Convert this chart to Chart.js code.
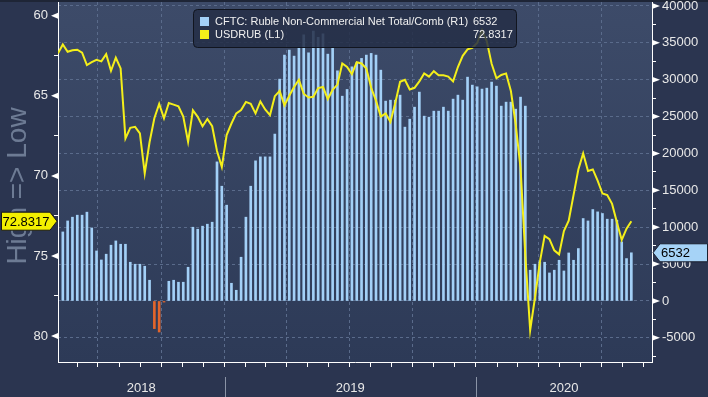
<!DOCTYPE html>
<html lang="en">
<head>
    <meta charset="UTF-8">
    <title>USDRUB vs CFTC Ruble positioning</title>
    <style>
        html, body {
            margin: 0;
            padding: 0;
            background-color: #2b3550;
        }
        #wrap {
            width: 708px;
            height: 397px;
        }
    </style>
    <script src="https://cdn.jsdelivr.net/npm/chart.js"></script>
</head>
<body>
    <div id="wrap"><canvas id="chart" width="708" height="397"></canvas></div>

    <script>
        // CFTC Ruble non-commercial net total (contracts), weekly from the first Friday below
        const cftcStart = '2018-05-11';
        const cftcNet = [
            9360, 10850, 11360, 11630, 11630, 12040, 9900, 6780, 5560, 6340,
            7560, 8140, 7690, 7690, 5250, 4980, 4980, 4710, 2810, -3750,
            -4210, -150, 2670, 2810, 2540, 2540, 4570, 10000, 9730, 10140,
            10410, 10680, 18860, 15560, 12990, 2400, 1450, 5930, 11360, 15560,
            19000, 19540, 19540, 19540, 22630, 30080, 33340, 34020, 33200, 34330,
            36090, 33650, 36590, 35740, 36230, 33470, 34330, 31210, 27770, 28680,
            31750, 32290, 32890, 33340, 33570, 33340, 31300, 27100, 27230, 27230,
            27910, 23570, 24650, 26280, 28320, 25060, 24920, 25740, 25740, 26280,
            25740, 27370, 27910, 27230, 30350, 29270, 29040, 28730, 28860, 29680,
            29130, 26420, 26960, 26960, 26010, 27640, 26420, 4170, 4980, 5290,
            5250, 3800, 4170, 5520, 4070, 6510, 5520, 7110, 11180, 10850,
            12400, 12080, 11860, 11090, 11090, 10950, 8010, 5750, 6532
        ];

        // USDRUB, weekly, starting one week before the first CFTC print
        const usdStart = '2018-05-04';
        const usdRub = [
            62.35, 61.79, 62.25, 62.15, 62.12, 62.3, 63.08, 62.9, 62.75, 62.85,
            62.4, 63.44, 62.62, 63.29, 67.66, 67.0, 66.94, 67.35, 69.85, 67.9,
            66.4, 65.5, 66.4, 65.45, 65.55, 65.65, 66.3, 67.88, 65.9, 66.31,
            66.9, 66.45, 66.9, 68.45, 69.44, 67.45, 66.73, 66.1, 65.89, 65.38,
            65.5, 66.1, 65.35, 65.85, 66.2, 65.02, 64.7, 65.6, 65.0, 64.45,
            64.0, 64.87, 65.1, 65.06, 64.52, 64.45, 65.2, 64.62, 64.3, 62.98,
            63.19, 63.65, 62.9, 62.98, 63.3, 64.5, 65.3, 66.3, 66.1, 66.63,
            65.45, 64.12, 64.0, 64.6, 64.5, 64.1, 63.6, 63.8, 63.46, 63.71,
            63.72, 63.8, 64.1, 63.2, 62.5, 62.1, 62.0, 61.7, 60.9, 61.6,
            63.0, 63.9, 63.7, 63.6, 64.7, 66.8, 69.5, 75.0, 79.64, 77.6,
            75.4, 73.75, 73.95, 74.65, 74.9, 73.45, 72.8, 71.2, 69.6, 68.6,
            69.7, 69.6, 70.3, 71.1, 71.2, 71.75, 72.9, 74.0, 73.3, 72.8317
        ];

        const axisStart = '2018-05-04';
        const axisEnd = '2020-09-13';
        const years = [2018, 2019, 2020];
        const leftTicks = [60, 62.5, 65, 67.5, 70, 72.5, 75, 77.5, 80];
        const rightTicks = [-7500, -5000, -2500, 0, 2500, 5000, 7500, 10000, 12500, 15000,
            17500, 20000, 22500, 25000, 27500, 30000, 32500, 35000, 37500, 40000];

        const seriesNames = ['CFTC: Ruble Non-Commercial Net Total/Comb (R1)', 'USDRUB (L1)'];

        // days since 2018-01-01 (x axis unit)
        const base = Date.UTC(2018, 0, 1);
        function dayNum(s) { return (Date.parse(s + 'T00:00:00Z') - base) / 864e5; }
        function weekly(start, values) {
            const d0 = dayNum(start);
            return values.map((v, i) => ({ x: d0 + 7 * i, y: v }));
        }

        const monthTicks = [];
        years.forEach(y => {
            for (let m = 0; m < 12; m++) {
                const d = (Date.UTC(y, m, 1) - base) / 864e5;
                if (d >= dayNum(axisStart) && d <= dayNum(axisEnd)) monthTicks.push({ value: d, quarter: m % 3 === 0 });
            }
        });

        const GRID = '#5a6b8b';
        const WHITE = '#e8e8e8';
        const lastUsd = usdRub[usdRub.length - 1];
        const lastNet = cftcNet[cftcNet.length - 1];

        const decor = {
            id: 'decor',
            beforeDraw(chart) {
                const { ctx, chartArea: a, width, height } = chart;
                ctx.save();
                ctx.fillStyle = '#2b3550';
                ctx.fillRect(0, 0, width, height);
                ctx.fillStyle = '#1e2536';
                ctx.fillRect(0, 0, width, 2);
                const g = ctx.createLinearGradient(0, a.top, 0, a.bottom);
                g.addColorStop(0, '#3d4b69');
                g.addColorStop(1, '#2d3a57');
                ctx.fillStyle = g;
                ctx.fillRect(a.left, a.top, a.right - a.left, a.bottom - a.top);
                ctx.restore();
            },
            afterDraw(chart) {
                const { ctx, chartArea: a, scales } = chart;
                const yL = scales.y, yR = scales.y2, x = scales.x;
                ctx.save();

                // axis title (behind the badge)
                ctx.save();
                ctx.translate(18, 186);
                ctx.rotate(-Math.PI / 2);
                ctx.font = '28px "Liberation Sans", Arial, sans-serif';
                ctx.fillStyle = '#6d7b94';
                ctx.textAlign = 'center';
                ctx.textBaseline = 'middle';
                ctx.fillText('High => Low', 0, 0);
                ctx.restore();

                // triangle markers on major ticks
                ctx.fillStyle = '#ffffff';
                leftTicks.filter(v => v % 5 === 0).forEach(v => {
                    const py = yL.getPixelForValue(v);
                    ctx.beginPath();
                    ctx.moveTo(a.left, py - 3);
                    ctx.lineTo(a.left, py + 3);
                    ctx.lineTo(a.left - 7, py);
                    ctx.closePath();
                    ctx.fill();
                });
                rightTicks.filter(v => v % 5000 === 0).forEach(v => {
                    const py = yR.getPixelForValue(v);
                    ctx.beginPath();
                    ctx.moveTo(a.right, py - 3);
                    ctx.lineTo(a.right, py + 3);
                    ctx.lineTo(a.right + 8, py);
                    ctx.closePath();
                    ctx.fill();
                });

                // years and separators under the axis
                ctx.font = '13px "Liberation Sans", Arial, sans-serif';
                ctx.fillStyle = WHITE;
                ctx.textAlign = 'center';
                ctx.textBaseline = 'middle';
                years.forEach(y => {
                    const s = Math.max(x.min, (Date.UTC(y, 0, 1) - base) / 864e5);
                    const e = Math.min(x.max, (Date.UTC(y + 1, 0, 1) - base) / 864e5);
                    ctx.fillText(String(y), (x.getPixelForValue(s) + x.getPixelForValue(e)) / 2, 388);
                    const d = (Date.UTC(y, 0, 1) - base) / 864e5;
                    if (d > x.min && d < x.max) {
                        const px = Math.round(x.getPixelForValue(d)) + 0.5;
                        ctx.strokeStyle = '#8a93a6';
                        ctx.lineWidth = 1;
                        ctx.beginPath();
                        ctx.moveTo(px, 377);
                        ctx.lineTo(px, 397);
                        ctx.stroke();
                    }
                });

                // legend box
                const lx = 193.5, ly = 9.5, lw = 323, lh = 38;
                ctx.beginPath();
                ctx.roundRect(lx, ly, lw, lh, 4);
                ctx.fillStyle = 'rgba(36, 46, 70, 0.85)';
                ctx.fill();
                ctx.strokeStyle = '#11151f';
                ctx.lineWidth = 1;
                ctx.stroke();
                ctx.font = '11px "Liberation Sans", Arial, sans-serif';
                ctx.textAlign = 'left';
                ctx.fillStyle = '#a3d0f7';
                ctx.fillRect(200, 17, 9, 9);
                ctx.fillStyle = '#f4ef1a';
                ctx.fillRect(200, 30, 9, 9);
                ctx.fillStyle = '#f0f0f0';
                ctx.fillText(seriesNames[0], 215, 22);
                ctx.fillText(seriesNames[1], 215, 35);
                ctx.fillText(String(lastNet), 473, 22);
                ctx.fillText(lastUsd.toFixed(4), 473, 35);

                // last value badges
                ctx.font = '13px "Liberation Sans", Arial, sans-serif';
                let py = yL.getPixelForValue(lastUsd);
                ctx.beginPath();
                ctx.moveTo(1.5, py - 9);
                ctx.lineTo(50, py - 9);
                ctx.lineTo(57, py);
                ctx.lineTo(50, py + 9);
                ctx.lineTo(1.5, py + 9);
                ctx.closePath();
                ctx.fillStyle = '#f3f000';
                ctx.fill();
                ctx.strokeStyle = '#1a1a1a';
                ctx.stroke();
                ctx.fillStyle = '#000000';
                ctx.textAlign = 'center';
                ctx.fillText(lastUsd.toFixed(4), 26, py + 1);

                py = yR.getPixelForValue(lastNet);
                ctx.beginPath();
                ctx.moveTo(a.right + 1, py);
                ctx.lineTo(a.right + 8, py - 9);
                ctx.lineTo(707.5, py - 9);
                ctx.lineTo(707.5, py + 9);
                ctx.lineTo(a.right + 8, py + 9);
                ctx.closePath();
                ctx.fillStyle = '#a6d3f7';
                ctx.fill();
                ctx.strokeStyle = '#1a1f2e';
                ctx.stroke();
                ctx.fillStyle = '#000000';
                ctx.textAlign = 'left';
                ctx.fillText(String(lastNet), a.right + 9, py + 1);

                ctx.restore();
            }
        };

        Chart.defaults.font.family = '"Liberation Sans", Arial, sans-serif';

        new Chart(document.getElementById('chart'), {
            type: 'bar',
            data: {
                datasets: [{
                    type: 'line',
                    label: seriesNames[1],
                    data: weekly(usdStart, usdRub),
                    yAxisID: 'y',
                    borderColor: '#f4ef1a',
                    borderWidth: 2,
                    pointRadius: 0,
                    tension: 0,
                    order: 0
                }, {
                    label: seriesNames[0],
                    data: weekly(cftcStart, cftcNet),
                    yAxisID: 'y2',
                    backgroundColor: ctx => (ctx.raw && ctx.raw.y < 0) ? '#e2652c' : '#a3d0f7',
                    barThickness: 2,
                    order: 1
                }]
            },
            options: {
                responsive: false,
                devicePixelRatio: 1,
                animation: false,
                layout: { padding: { top: 2, left: 0, right: 0, bottom: 0 }, autoPadding: false },
                plugins: { legend: { display: false }, tooltip: { enabled: false } },
                scales: {
                    x: {
                        type: 'linear',
                        min: dayNum(axisStart),
                        max: dayNum(axisEnd),
                        offset: false,
                        afterBuildTicks: s => { s.ticks = monthTicks.map(t => ({ value: t.value })); },
                        afterFit: s => { s.height = 35; s.paddingLeft = 0; s.paddingRight = 0; },
                        ticks: { autoSkip: false, callback: () => '' },
                        grid: {
                            offset: false,
                            color: c => (monthTicks[c.index] && monthTicks[c.index].quarter) ? GRID : 'rgba(0,0,0,0)',
                            tickColor: '#ffffff',
                            tickLength: 5
                        },
                        border: { color: '#ffffff', width: 1, dash: [3, 3] }
                    },
                    y: {
                        position: 'left',
                        reverse: true,
                        min: 59.14,
                        max: 81.625,
                        afterBuildTicks: s => { s.ticks = leftTicks.map(v => ({ value: v })); },
                        afterFit: s => { s.width = 58; s.paddingTop = 0; s.paddingBottom = 0; },
                        ticks: {
                            autoSkip: false,
                            color: WHITE,
                            font: { size: 13 },
                            padding: 6,
                            callback: v => v % 5 === 0 ? String(v) : ''
                        },
                        grid: {
                            drawOnChartArea: false,
                            tickColor: c => c.tick && c.tick.value % 5 === 0 ? 'rgba(0,0,0,0)' : '#ffffff',
                            tickLength: 4
                        },
                        border: { color: '#ffffff', width: 1 }
                    },
                    y2: {
                        position: 'right',
                        min: -8277,
                        max: 40540,
                        afterBuildTicks: s => { s.ticks = rightTicks.map(v => ({ value: v })); },
                        afterFit: s => { s.width = 56; s.paddingTop = 0; s.paddingBottom = 0; },
                        ticks: {
                            autoSkip: false,
                            color: WHITE,
                            font: { size: 13 },
                            padding: 6,
                            callback: v => v % 5000 === 0 ? String(v) : ''
                        },
                        grid: {
                            color: c => c.tick && c.tick.value % 5000 === 0 ? GRID : 'rgba(0,0,0,0)',
                            tickColor: c => c.tick && c.tick.value % 5000 === 0 ? 'rgba(0,0,0,0)' : '#ffffff',
                            tickLength: 4
                        },
                        border: { color: '#ffffff', width: 1, dash: [3, 3] }
                    }
                }
            },
            plugins: [decor]
        });
    </script>
</body>
</html>
